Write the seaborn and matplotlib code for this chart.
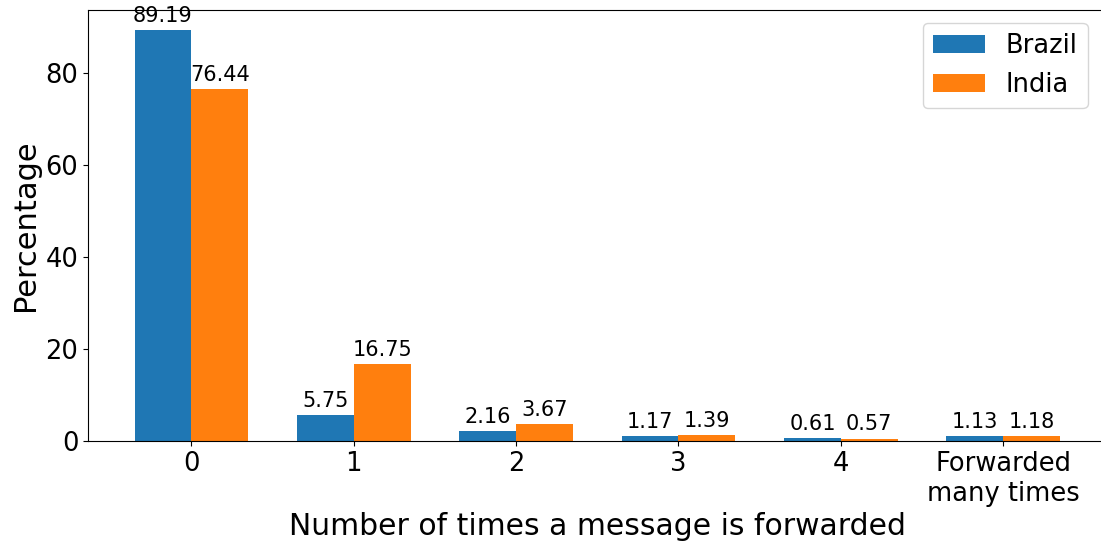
import seaborn as sns
import matplotlib.pyplot as plt
import pandas as pd

categories = ["0", "1", "2", "3", "4", "Forwarded\nmany times"]
brazil = [89.19, 5.75, 2.16, 1.17, 0.61, 1.13]
india = [76.44, 16.75, 3.67, 1.39, 0.57, 1.18]

df = pd.DataFrame({
    "times": categories * 2,
    "pct": brazil + india,
    "country": ["Brazil"] * len(categories) + ["India"] * len(categories),
})

fig = plt.figure(figsize=(11.01, 5.42), dpi=100)
ax = fig.add_axes([0.080, 0.186, 0.925, 0.796])
sns.barplot(data=df, x="times", y="pct", hue="country", width=0.7,
            palette=["#1f77b4", "#ff7f0e"], saturation=1, ax=ax)

for c in ax.containers:
    ax.bar_label(c, fmt="%.2f", padding=3, fontsize=15)

ax.set_xlim(-0.636, 5.636)
ax.set_ylim(0, 93.65)
ax.tick_params(labelsize=18.5)
ax.set_xlabel("Number of times a message is forwarded", fontsize=21.5)
ax.set_ylabel("Percentage", fontsize=22)
ax.legend(fontsize=18.5, loc="upper right", bbox_to_anchor=(0.994, 1.0))

plt.savefig("out.png", dpi=100)
